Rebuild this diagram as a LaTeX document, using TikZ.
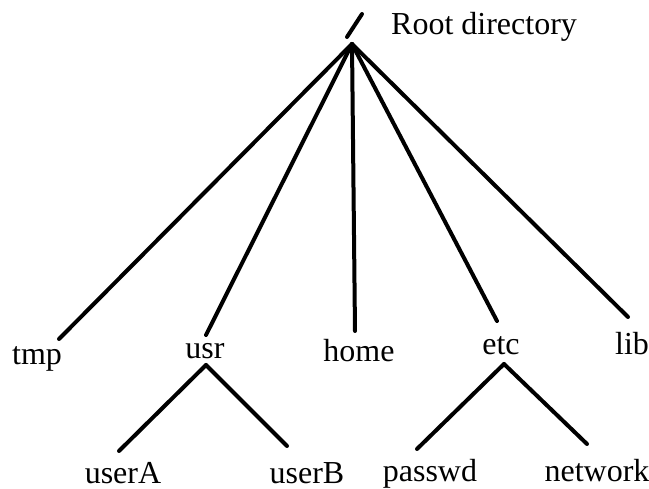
\documentclass[tikz,border=0pt]{standalone}
\usepackage{fontspec}
\setmainfont{Liberation Serif}
\begin{document}
\begin{tikzpicture}[x=1pt,y=-1pt,
  lbl/.style={anchor=base,inner sep=0pt,font=\fontsize{32}{36}\selectfont},
  edge/.style={line width=4pt,line cap=round}]
\useasboundingbox (0,0) rectangle (649,489);
% root
\coordinate (root) at (352,44);
\coordinate (slashtop) at (362,14);
\coordinate (slashbot) at (347,37);
\draw[edge] (slashbot) -- (slashtop);
\node[lbl,anchor=base west] (rootlbl) at (391,35) {Root directory};
% line ends
\coordinate (etmp) at (59,339);
\coordinate (eusr) at (206,335);
\coordinate (ehome) at (355,331);
\coordinate (eetc) at (497,321);
\coordinate (elib) at (628,317);
\draw[edge] (root) -- (etmp);
\draw[edge] (root) -- (eusr);
\draw[edge] (root) -- (ehome);
\draw[edge] (root) -- (eetc);
\draw[edge] (root) -- (elib);
% labels level 1
\node[lbl] (tmp) at (37,365) {tmp};
\node[lbl] (usr) at (205,359) {usr};
\node[lbl] (home) at (359,362) {home};
\node[lbl] (etc) at (501,355) {etc};
\node[lbl] (lib) at (632,355) {lib};
% usr subtree
\coordinate (jusr) at (206,365);
\coordinate (euserA) at (119,451);
\coordinate (euserB) at (287,446);
\draw[edge] (jusr) -- (euserA);
\draw[edge] (jusr) -- (euserB);
\node[lbl] (userA) at (123,483) {userA};
\node[lbl] (userB) at (307,483) {userB};
% etc subtree
\coordinate (jetc) at (504,364);
\coordinate (epasswd) at (417,449);
\coordinate (enetwork) at (587,444);
\draw[edge] (jetc) -- (epasswd);
\draw[edge] (jetc) -- (enetwork);
\node[lbl] (passwd) at (430,482) {passwd};
\node[lbl] (network) at (597,482) {network};
\end{tikzpicture}
\end{document}
